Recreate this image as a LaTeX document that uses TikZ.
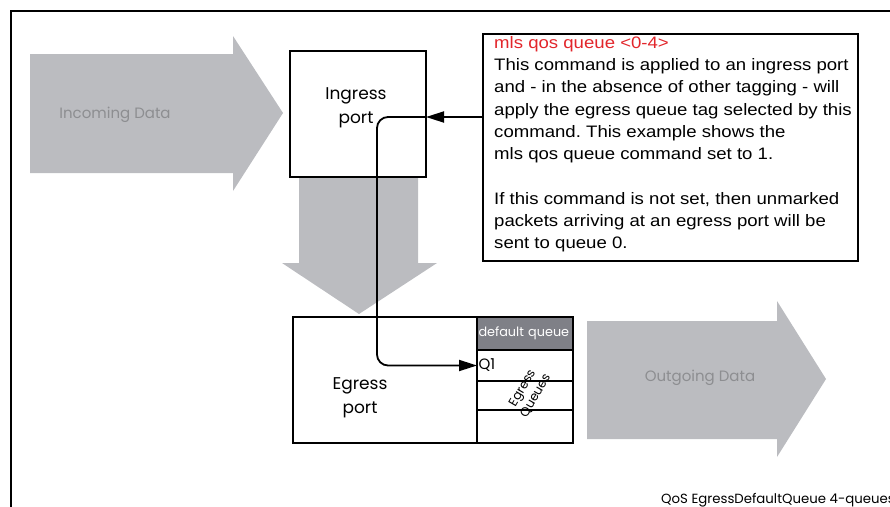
\documentclass[tikz,border=0pt]{standalone}
\usepackage{fontspec}
\setmainfont{Liberation Sans}
\newfontfamily\notefont{Liberation Sans}[FakeStretch=1.12]
\newfontfamily\geofont{Poppins}
\usetikzlibrary{arrows.meta,positioning,calc}
\definecolor{pipegray}{HTML}{BBBCC0}
\definecolor{datagray}{HTML}{8D8E91}
\definecolor{qdark}{HTML}{7F8087}
\definecolor{cmdred}{HTML}{E2262B}
\frenchspacing

\begin{document}
\begin{tikzpicture}[
  x=1pt, y=-1pt,
  box/.style={draw, line width=1.8pt, inner sep=0pt},
  qcell/.style={box, outer sep=0pt, minimum width=96pt, anchor=north west,
                font=\geofont\fontsize{12.8}{14}\selectfont, align=left,
                text width=93pt},
  lbl/.style={font=\geofont\fontsize{17}{24}\selectfont, align=center, inner sep=0pt},
  datalbl/.style={font=\geofont\fontsize{15}{18}\selectfont, text=datagray, inner sep=0pt},
  flow/.style={-{Triangle[length=18pt, width=11pt]}, line width=1.8pt},
]
\useasboundingbox (0,0) rectangle (890,506);

%% ---- outer frame ----------------------------------------------------------
\draw[line width=1.8pt] (11,515) |- (900,11);

%% ---- big gray data arrows -------------------------------------------------
\fill[pipegray] (30,54) -- (233,54) -- (233,36) -- (283,113) -- (233,191)
  -- (233,173) -- (30,173) -- cycle;
\fill[pipegray] (299,177) -- (418,177) -- (418,263) -- (437,263) -- (359,314)
  -- (282,263) -- (299,263) -- cycle;
\fill[pipegray] (587,321) -- (777,321) -- (777,301) -- (826,379) -- (777,457)
  -- (777,439) -- (587,439) -- cycle;
\node[datalbl] (incoming) at (115,115) {Incoming Data};
\node[datalbl] (outgoing) at (700,378) {Outgoing Data};

%% ---- ports ----------------------------------------------------------------
\node[box, minimum width=136pt, minimum height=126pt] (ingress) at (358,114) {};
\node[lbl] (inlbl) at (356,108) {Ingress\\port};
\node[box, minimum width=280pt, minimum height=126pt] (egress) at (433,380) {};
\node[lbl] (eglbl) at (360,398) {Egress\\port};

%% ---- egress queues --------------------------------------------------------
\node[qcell, fill=qdark, text=white, minimum height=33pt] (qdef) at (477,317) {default queue};
\node[qcell, minimum height=31pt, anchor=north west,
      font=\geofont\fontsize{15}{16}\selectfont] (q1) at (qdef.south west) {Q1};
\node[qcell, minimum height=29pt, anchor=north west] (q2) at (q1.south west) {};
\node[qcell, minimum height=33pt, anchor=north west] (q3) at (q2.south west) {};
\node[font=\geofont\fontsize{12.5}{15}\selectfont, rotate=60, align=center,
      inner sep=0pt] (qname) at (529,392) {Egress\\Queues};

%% ---- command note ---------------------------------------------------------
\node[box, minimum width=375pt, minimum height=227pt] (note) at (670.5,147.5) {};
\node[anchor=north west, align=left, inner sep=0pt,
      font=\notefont\fontsize{16.6}{22.3}\selectfont] (notetxt) at (494,36)
  {\textcolor{cmdred}{mls qos queue <0-4>}\\
   This command is applied to an ingress port\\
   and - in the absence of other tagging - will\\
   apply the egress queue tag selected by this\\
   command. This example shows the\\
   mls qos queue command set to 1.\\[22.3pt]
   If this command is not set, then unmarked\\
   packets arriving at an egress port will be\\
   sent to queue 0.};

%% ---- tag path -------------------------------------------------------------
\coordinate (tagin) at (426,117);
\draw[flow] (note.west |- tagin) -- (tagin);
\draw[flow, rounded corners=11pt] (tagin) -- (377,117) |- (q1.west);

%% ---- figure name ----------------------------------------------------------
\node[anchor=base west, inner sep=0pt, font=\geofont\fontsize{13.3}{16}\selectfont]
  (figname) at (661,503) {QoS EgressDefaultQueue 4-queues};

\end{tikzpicture}
\end{document}
